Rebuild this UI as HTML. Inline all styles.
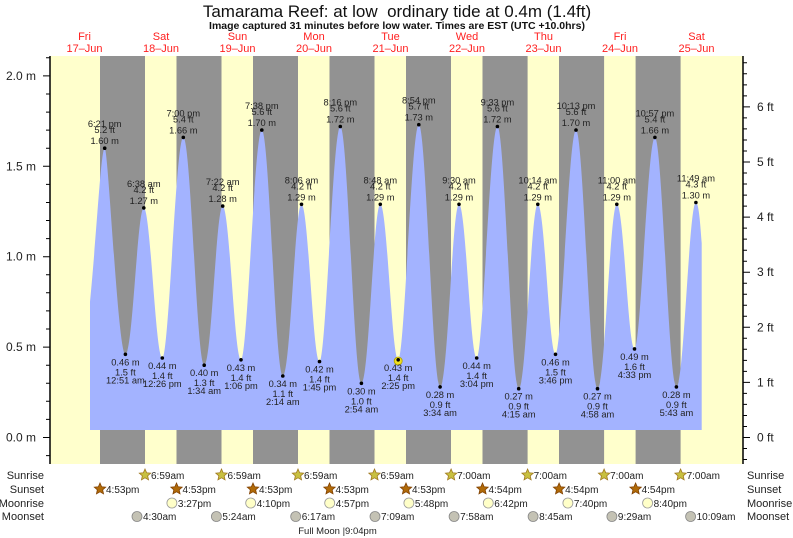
<!DOCTYPE html>
<html><head><meta charset="utf-8"><style>
html,body{margin:0;padding:0;background:#fff}
svg{display:block;font-family:"Liberation Sans",sans-serif}
</style></head><body>
<svg width="793" height="538" viewBox="0 0 793 538" xmlns="http://www.w3.org/2000/svg">
<defs>
<path id="st" d="M0,-6 L1.65,-2.27 5.71,-1.85 2.66,0.87 3.53,4.85 0,2.8 -3.53,4.85 -2.66,0.87 -5.71,-1.85 -1.65,-2.27Z"/>
</defs>
<rect x="50" y="56" width="693" height="408" fill="#ffffcc"/>
<g fill="#929292">
<rect x="100" y="56" width="45" height="408"/>
<rect x="176.5" y="56" width="45" height="408"/>
<rect x="253" y="56" width="45" height="408"/>
<rect x="329.5" y="56" width="45" height="408"/>
<rect x="406" y="56" width="45" height="408"/>
<rect x="482.5" y="56" width="45.1" height="408"/>
<rect x="559" y="56" width="45.1" height="408"/>
<rect x="635.6" y="56" width="45" height="408"/>
</g>
<path fill="#a3b3ff" d="M90,430 L90,301.7 C97,230 101,148.2 104.7,148.2
S118.0,354.3 125.4,354.3 S137.2,207.9 143.8,207.9 S155.6,358.0 162.3,358.0 S175.7,137.4 183.3,137.4
S196.7,365.2 204.2,365.2 S216.0,206.1 222.7,206.1 S234.4,359.8 241.0,359.8 S254.3,130.1 261.8,130.1
S275.2,376.0 282.8,376.0 S294.8,204.3 301.5,204.3 S313.0,361.6 319.5,361.6 S332.8,126.5 340.3,126.5
S353.8,383.3 361.4,383.3 S373.5,204.3 380.3,204.3 S391.8,359.8 398.2,359.8 S411.4,124.7 418.8,124.7
S432.4,386.9 440.1,386.9 S452.2,204.3 459.0,204.3 S470.3,358.0 476.7,358.0 S490.0,126.5 497.4,126.5
S511.0,388.7 518.7,388.7 S530.9,204.3 537.8,204.3 S549.1,354.3 555.5,354.3 S568.6,130.1 576.0,130.1
S589.8,388.7 597.5,388.7 S609.9,204.3 616.8,204.3 S628.1,348.9 634.5,348.9 S647.6,137.4 654.9,137.4
S668.7,386.9 676.4,386.9 S688.9,202.5 695.9,202.5 C699,202.5 700.5,228 701.7,243 L701.7,430 Z"/>
<g stroke="#000" fill="none">
<line x1="50" y1="56" x2="50" y2="464" stroke-width="1.5"/>
<line x1="743" y1="56" x2="743" y2="464" stroke-width="1.5"/>
<path stroke-width="1" d="M43,437.5h7M43,347.1h7M43,256.7h7M43,166.3h7M43,75.9h7
M46,455.6h4M46,419.4h4M46,401.3h4M46,383.3h4M46,365.2h4M46,329h4M46,310.9h4M46,292.8h4M46,274.8h4M46,238.6h4M46,220.5h4M46,202.5h4M46,184.4h4M46,148.2h4M46,130.1h4M46,112.1h4M46,94h4M46,57.8h4
M743,437.5h7M743,382.4h7M743,327.3h7M743,272.2h7M743,217.1h7M743,162h7M743,106.9h7
M743,459.5h4M743,448.5h4M743,426.5h4M743,415.5h4M743,404.4h4M743,393.4h4M743,371.4h4M743,360.4h4M743,349.3h4M743,338.3h4M743,316.3h4M743,305.3h4M743,294.2h4M743,283.2h4M743,261.2h4M743,250.2h4M743,239.1h4M743,228.1h4M743,206.1h4M743,195.1h4M743,184h4M743,173h4M743,151h4M743,140h4M743,128.9h4M743,117.9h4M743,95.9h4M743,84.9h4M743,73.8h4M743,62.8h4"/>
</g>
<g font-size="12" fill="#222" text-anchor="end">
<text x="36" y="441.5">0.0 m</text><text x="36" y="351.1">0.5 m</text><text x="36" y="260.7">1.0 m</text><text x="36" y="170.3">1.5 m</text><text x="36" y="79.9">2.0 m</text>
</g>
<g font-size="12" fill="#222">
<text x="757" y="441.5">0 ft</text><text x="757" y="386.4">1 ft</text><text x="757" y="331.3">2 ft</text><text x="757" y="276.2">3 ft</text><text x="757" y="221.1">4 ft</text><text x="757" y="166">5 ft</text><text x="757" y="110.9">6 ft</text>
</g>
<text x="397" y="17" font-size="17" text-anchor="middle" fill="#111">Tamarama Reef: at low&#160; ordinary tide at 0.4m (1.4ft)</text>
<text x="397" y="29" font-size="10.5" font-weight="bold" text-anchor="middle" fill="#111">Image captured 31 minutes before low water. Times are EST (UTC +10.0hrs)</text>
<g font-size="11" fill="#ff2020" text-anchor="middle">
<text x="84.5" y="40">Fri</text><text x="84.5" y="52">17–Jun</text>
<text x="161" y="40">Sat</text><text x="161" y="52">18–Jun</text>
<text x="237.5" y="40">Sun</text><text x="237.5" y="52">19–Jun</text>
<text x="314" y="40">Mon</text><text x="314" y="52">20–Jun</text>
<text x="390.5" y="40">Tue</text><text x="390.5" y="52">21–Jun</text>
<text x="467" y="40">Wed</text><text x="467" y="52">22–Jun</text>
<text x="543.5" y="40">Thu</text><text x="543.5" y="52">23–Jun</text>
<text x="620" y="40">Fri</text><text x="620" y="52">24–Jun</text>
<text x="696.5" y="40">Sat</text><text x="696.5" y="52">25–Jun</text>
</g>
<circle cx="398.2" cy="361" r="4" fill="#f0e020" stroke="#b0a000" stroke-width="0.8"/>
<g fill="#000">
<circle cx="104.7" cy="148.2" r="1.8"/><circle cx="125.4" cy="354.3" r="1.8"/><circle cx="143.8" cy="207.9" r="1.8"/><circle cx="162.3" cy="358" r="1.8"/><circle cx="183.3" cy="137.4" r="1.8"/>
<circle cx="204.2" cy="365.2" r="1.8"/><circle cx="222.7" cy="206.1" r="1.8"/><circle cx="241" cy="359.8" r="1.8"/><circle cx="261.8" cy="130.1" r="1.8"/>
<circle cx="282.8" cy="376" r="1.8"/><circle cx="301.5" cy="204.3" r="1.8"/><circle cx="319.5" cy="361.6" r="1.8"/><circle cx="340.3" cy="126.5" r="1.8"/>
<circle cx="361.4" cy="383.3" r="1.8"/><circle cx="380.3" cy="204.3" r="1.8"/><circle cx="398.2" cy="359.8" r="1.8"/><circle cx="418.8" cy="124.7" r="1.8"/>
<circle cx="440.1" cy="386.9" r="1.8"/><circle cx="459" cy="204.3" r="1.8"/><circle cx="476.7" cy="358" r="1.8"/><circle cx="497.4" cy="126.5" r="1.8"/>
<circle cx="518.7" cy="388.7" r="1.8"/><circle cx="537.8" cy="204.3" r="1.8"/><circle cx="555.5" cy="354.3" r="1.8"/><circle cx="576" cy="130.1" r="1.8"/>
<circle cx="597.5" cy="388.7" r="1.8"/><circle cx="616.8" cy="204.3" r="1.8"/><circle cx="634.5" cy="348.9" r="1.8"/><circle cx="654.9" cy="137.4" r="1.8"/>
<circle cx="676.4" cy="386.9" r="1.8"/><circle cx="695.9" cy="202.5" r="1.8"/>
</g>
<g font-size="9.3" fill="#222" text-anchor="middle">
<text x="104.7" y="127.2">6:21 pm</text><text x="104.7" y="133.2">5.2 ft</text><text x="104.7" y="144.2">1.60 m</text>
<text x="143.8" y="186.9">6:38 am</text><text x="143.8" y="192.9">4.2 ft</text><text x="143.8" y="203.9">1.27 m</text>
<text x="183.3" y="116.4">7:00 pm</text><text x="183.3" y="122.4">5.4 ft</text><text x="183.3" y="133.4">1.66 m</text>
<text x="222.7" y="185.1">7:22 am</text><text x="222.7" y="191.1">4.2 ft</text><text x="222.7" y="202.1">1.28 m</text>
<text x="261.8" y="109.1">7:38 pm</text><text x="261.8" y="115.1">5.6 ft</text><text x="261.8" y="126.1">1.70 m</text>
<text x="301.5" y="183.3">8:06 am</text><text x="301.5" y="189.3">4.2 ft</text><text x="301.5" y="200.3">1.29 m</text>
<text x="340.3" y="105.5">8:16 pm</text><text x="340.3" y="111.5">5.6 ft</text><text x="340.3" y="122.5">1.72 m</text>
<text x="380.3" y="183.3">8:48 am</text><text x="380.3" y="189.3">4.2 ft</text><text x="380.3" y="200.3">1.29 m</text>
<text x="418.8" y="103.7">8:54 pm</text><text x="418.8" y="109.7">5.7 ft</text><text x="418.8" y="120.7">1.73 m</text>
<text x="459" y="183.3">9:30 am</text><text x="459" y="189.3">4.2 ft</text><text x="459" y="200.3">1.29 m</text>
<text x="497.4" y="105.5">9:33 pm</text><text x="497.4" y="111.5">5.6 ft</text><text x="497.4" y="122.5">1.72 m</text>
<text x="537.8" y="183.3">10:14 am</text><text x="537.8" y="189.3">4.2 ft</text><text x="537.8" y="200.3">1.29 m</text>
<text x="576" y="109.1">10:13 pm</text><text x="576" y="115.1">5.6 ft</text><text x="576" y="126.1">1.70 m</text>
<text x="616.8" y="183.3">11:00 am</text><text x="616.8" y="189.3">4.2 ft</text><text x="616.8" y="200.3">1.29 m</text>
<text x="654.9" y="116.4">10:57 pm</text><text x="654.9" y="122.4">5.4 ft</text><text x="654.9" y="133.4">1.66 m</text>
<text x="695.9" y="181.5">11:49 am</text><text x="695.9" y="187.5">4.3 ft</text><text x="695.9" y="198.5">1.30 m</text>
<text x="125.4" y="365.3">0.46 m</text><text x="125.4" y="375.3">1.5 ft</text><text x="125.4" y="383.3">12:51 am</text>
<text x="162.3" y="369">0.44 m</text><text x="162.3" y="379">1.4 ft</text><text x="162.3" y="387">12:26 pm</text>
<text x="204.2" y="376.2">0.40 m</text><text x="204.2" y="386.2">1.3 ft</text><text x="204.2" y="394.2">1:34 am</text>
<text x="241" y="370.8">0.43 m</text><text x="241" y="380.8">1.4 ft</text><text x="241" y="388.8">1:06 pm</text>
<text x="282.8" y="387">0.34 m</text><text x="282.8" y="397">1.1 ft</text><text x="282.8" y="405">2:14 am</text>
<text x="319.5" y="372.6">0.42 m</text><text x="319.5" y="382.6">1.4 ft</text><text x="319.5" y="390.6">1:45 pm</text>
<text x="361.4" y="394.3">0.30 m</text><text x="361.4" y="404.3">1.0 ft</text><text x="361.4" y="412.3">2:54 am</text>
<text x="398.2" y="370.8">0.43 m</text><text x="398.2" y="380.8">1.4 ft</text><text x="398.2" y="388.8">2:25 pm</text>
<text x="440.1" y="397.9">0.28 m</text><text x="440.1" y="407.9">0.9 ft</text><text x="440.1" y="415.9">3:34 am</text>
<text x="476.7" y="369">0.44 m</text><text x="476.7" y="379">1.4 ft</text><text x="476.7" y="387">3:04 pm</text>
<text x="518.7" y="399.7">0.27 m</text><text x="518.7" y="409.7">0.9 ft</text><text x="518.7" y="417.7">4:15 am</text>
<text x="555.5" y="365.3">0.46 m</text><text x="555.5" y="375.3">1.5 ft</text><text x="555.5" y="383.3">3:46 pm</text>
<text x="597.5" y="399.7">0.27 m</text><text x="597.5" y="409.7">0.9 ft</text><text x="597.5" y="417.7">4:58 am</text>
<text x="634.5" y="359.9">0.49 m</text><text x="634.5" y="369.9">1.6 ft</text><text x="634.5" y="377.9">4:33 pm</text>
<text x="676.4" y="397.9">0.28 m</text><text x="676.4" y="407.9">0.9 ft</text><text x="676.4" y="415.9">5:43 am</text>
</g>
<g font-size="11" fill="#222">
<text x="44" y="479" text-anchor="end">Sunrise</text>
<text x="44" y="493" text-anchor="end">Sunset</text>
<text x="44" y="507" text-anchor="end">Moonrise</text>
<text x="44" y="520" text-anchor="end">Moonset</text>
<text x="747" y="479">Sunrise</text>
<text x="747" y="493">Sunset</text>
<text x="747" y="507">Moonrise</text>
<text x="747" y="520">Moonset</text>
</g>
<g fill="#c8c040" stroke="#a07820" stroke-width="0.8">
<use href="#st" x="145" y="475"/><use href="#st" x="221.5" y="475"/><use href="#st" x="298" y="475"/><use href="#st" x="374.5" y="475"/><use href="#st" x="451.1" y="475"/><use href="#st" x="527.6" y="475"/><use href="#st" x="604.1" y="475"/><use href="#st" x="680.6" y="475"/>
</g>
<g fill="#b06a08" stroke="#804000" stroke-width="0.8">
<use href="#st" x="100" y="489"/><use href="#st" x="176.5" y="489"/><use href="#st" x="253" y="489"/><use href="#st" x="329.5" y="489"/><use href="#st" x="406" y="489"/><use href="#st" x="482.5" y="489"/><use href="#st" x="559.1" y="489"/><use href="#st" x="635.6" y="489"/>
</g>
<g fill="#ffffc8" stroke="#999" stroke-width="0.8">
<circle cx="171.9" cy="503" r="5"/><circle cx="250.7" cy="503" r="5"/><circle cx="329.7" cy="503" r="5"/><circle cx="408.9" cy="503" r="5"/><circle cx="488.3" cy="503" r="5"/><circle cx="567.9" cy="503" r="5"/><circle cx="647.6" cy="503" r="5"/>
</g>
<g fill="#c4c2b4" stroke="#888" stroke-width="0.8">
<circle cx="137" cy="516.5" r="5"/><circle cx="216.4" cy="516.5" r="5"/><circle cx="295.7" cy="516.5" r="5"/><circle cx="375" cy="516.5" r="5"/><circle cx="454.1" cy="516.5" r="5"/><circle cx="533.1" cy="516.5" r="5"/><circle cx="611.9" cy="516.5" r="5"/><circle cx="690.6" cy="516.5" r="5"/>
</g>
<g font-size="10" fill="#222">
<text x="151" y="479">6:59am</text><text x="227.5" y="479">6:59am</text><text x="304" y="479">6:59am</text><text x="380.5" y="479">6:59am</text><text x="457.1" y="479">7:00am</text><text x="533.6" y="479">7:00am</text><text x="610.1" y="479">7:00am</text><text x="686.6" y="479">7:00am</text>
<text x="106" y="493">4:53pm</text><text x="182.5" y="493">4:53pm</text><text x="259" y="493">4:53pm</text><text x="335.5" y="493">4:53pm</text><text x="412" y="493">4:53pm</text><text x="488.5" y="493">4:54pm</text><text x="565.1" y="493">4:54pm</text><text x="641.6" y="493">4:54pm</text>
<text x="177.9" y="507">3:27pm</text><text x="256.7" y="507">4:10pm</text><text x="335.7" y="507">4:57pm</text><text x="414.9" y="507">5:48pm</text><text x="494.3" y="507">6:42pm</text><text x="573.9" y="507">7:40pm</text><text x="653.6" y="507">8:40pm</text>
<text x="143" y="520">4:30am</text><text x="222.4" y="520">5:24am</text><text x="301.7" y="520">6:17am</text><text x="381" y="520">7:09am</text><text x="460.1" y="520">7:58am</text><text x="539.1" y="520">8:45am</text><text x="617.9" y="520">9:29am</text><text x="696.6" y="520">10:09am</text>
</g>
<text x="337.5" y="534" font-size="9.5" fill="#222" text-anchor="middle">Full Moon |9:04pm</text>
</svg>
</body></html>
